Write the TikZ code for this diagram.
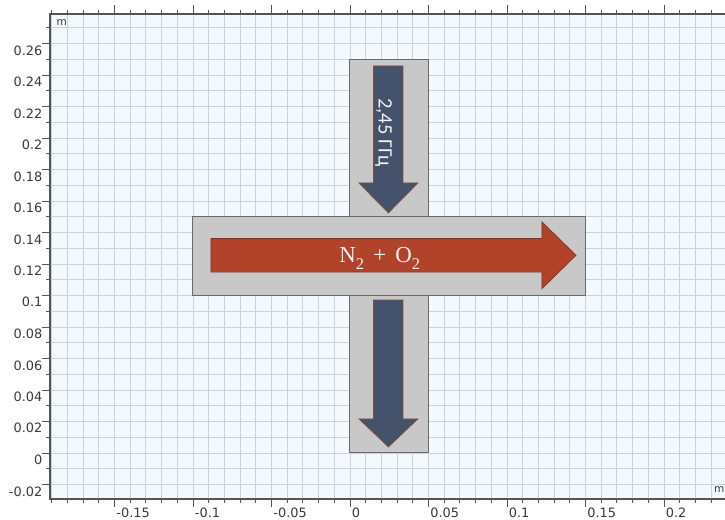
\documentclass[tikz,border=0pt]{standalone}
\usepackage{fontspec}
\setmainfont{DejaVu Sans}
\newfontfamily\labelfont{Liberation Serif}
\newfontfamily\freqfont{Carlito}
\usepackage{tikz}
\definecolor{plotbg}{HTML}{F3F9FD}
\definecolor{gridblue}{HTML}{C8D4E0}
\definecolor{axisgray}{HTML}{555555}
\definecolor{boxgray}{HTML}{C8C8C8}
\definecolor{boxedge}{HTML}{6A6A6A}
\definecolor{flowred}{HTML}{B0432A}
\definecolor{flowedge}{HTML}{7E3422}
\definecolor{waveblue}{HTML}{44536B}
\definecolor{waveedge}{HTML}{8C4A3A}
\newcommand{\lowtwo}{\raisebox{-0.3em}{\fontsize{14}{14}\selectfont 2}}

\begin{document}
\begin{tikzpicture}[
    x=47.1cm, y=47.25cm,
    gridline/.style={draw=gridblue, line width=0.7pt},
    frameline/.style={draw=axisgray, line width=1pt},
    tickline/.style={draw=axisgray, line width=0.7pt},
    ticklabel/.style={inner sep=0pt, text=axisgray!70!black, font=\fontsize{11}{13}\selectfont},
    unitlabel/.style={inner sep=0pt, text=axisgray!70!black, font=\fontsize{9}{11}\selectfont},
    domainbox/.style={draw=boxedge, fill=boxgray, line width=0.8pt},
    flowarrow/.style={draw=flowedge, fill=flowred, line width=0.6pt},
    wavearrow/.style={draw=waveedge, fill=waveblue, line width=0.6pt},
    arrowlabel/.style={inner sep=0pt, text=white!95!black}
]
\useasboundingbox (-0.2229,-0.04254) rectangle (0.2389,0.2876);
\clip (-0.2229,-0.04254) rectangle (0.2389,0.2876);

% plot area and grid
\fill[white] (-0.2229,-0.04254) rectangle (0.2389,0.2876);
\fill[plotbg] (-0.1911,-0.0292) rectangle (0.25,0.2787);
\foreach \i in {-19,...,24}
  \draw[gridline] (\i/100,-0.0292) -- (\i/100,0.2787);
\foreach \j in {-2,...,27}
  \draw[gridline] (-0.1911,\j/100) -- (0.25,\j/100);
\draw[frameline] (0.25,-0.0292) -- (-0.1911,-0.0292) -- (-0.1911,0.2787) -- (0.25,0.2787);

% ticks
\foreach \i in {-19,...,24} {
  \draw[tickline] (\i/100,-0.0292) -- ++(0,-3.4pt);
  \draw[tickline] (\i/100,0.2787) -- ++(0,3.4pt);
}
\foreach \i in {-15,-10,...,20} {
  \draw[tickline] (\i/100,-0.0292) -- ++(0,-6.5pt);
  \draw[tickline] (\i/100,0.2787) -- ++(0,7.5pt);
}
\foreach \j in {-2,...,27}
  \draw[tickline] (-0.1911,\j/100) -- ++(-3.4pt,0);
\foreach \j in {-2,0,...,26}
  \draw[tickline] (-0.1911,\j/100) -- ++(-7pt,0);

% tick labels
\foreach \x/\lab in {-0.15/-0.15,-0.1/-0.1,-0.05/-0.05,0/0,0.05/0.05,0.1/0.1,0.15/0.15,0.2/0.2}
  \node[ticklabel, anchor=north west] at ([xshift=1.5pt]\x,-0.0349) {\lab};
\foreach \y/\lab in {0.26/0.26,0.24/0.24,0.22/0.22,0.2/0.2,0.18/0.18,0.16/0.16,0.14/0.14,0.12/0.12,0.1/0.1,0.08/0.08,0.06/0.06,0.04/0.04,0.02/0.02,0/0,-0.02/-0.02}
  \node[ticklabel, anchor=north east] at ([yshift=-1.5pt]-0.1958,\y) {\lab};
\node[unitlabel, anchor=north west] (unity) at (-0.1870,0.2755) {m};
\node[unitlabel, anchor=west] (unitx) at (0.2318,-0.0235) {m};

% geometry
\draw[domainbox] (0,0) rectangle (0.05,0.25);
\draw[domainbox] (-0.1,0.1) rectangle (0.15,0.15);

% arrows
\draw[flowarrow] (-0.0885,0.1148) -- (0.1223,0.1148) -- (0.1223,0.1043) -- (0.1440,0.1255)
  -- (0.1223,0.1467) -- (0.1223,0.1362) -- (-0.0885,0.1362) -- cycle;
\draw[wavearrow] (0.0150,0.2457) -- (0.0338,0.2457) -- (0.0338,0.1714) -- (0.0433,0.1714)
  -- (0.0245,0.1524) -- (0.0057,0.1714) -- (0.0150,0.1714) -- cycle;
\draw[wavearrow] (0.0150,0.0971) -- (0.0338,0.0971) -- (0.0338,0.0216) -- (0.0433,0.0216)
  -- (0.0245,0.0038) -- (0.0057,0.0216) -- (0.0150,0.0216) -- cycle;

\node[arrowlabel, rotate=-90, anchor=base, font=\freqfont\fontsize{17.5}{20}\selectfont] (freq) at (0.0182,0.2035) {2,45 ГГц};
\node[arrowlabel, anchor=base, font=\labelfont\fontsize{19.5}{22}\selectfont] (gas) at (0.0190,0.1206) {N\lowtwo\hspace{0.4em}+\hspace{0.4em}O\lowtwo};
\end{tikzpicture}
\end{document}
